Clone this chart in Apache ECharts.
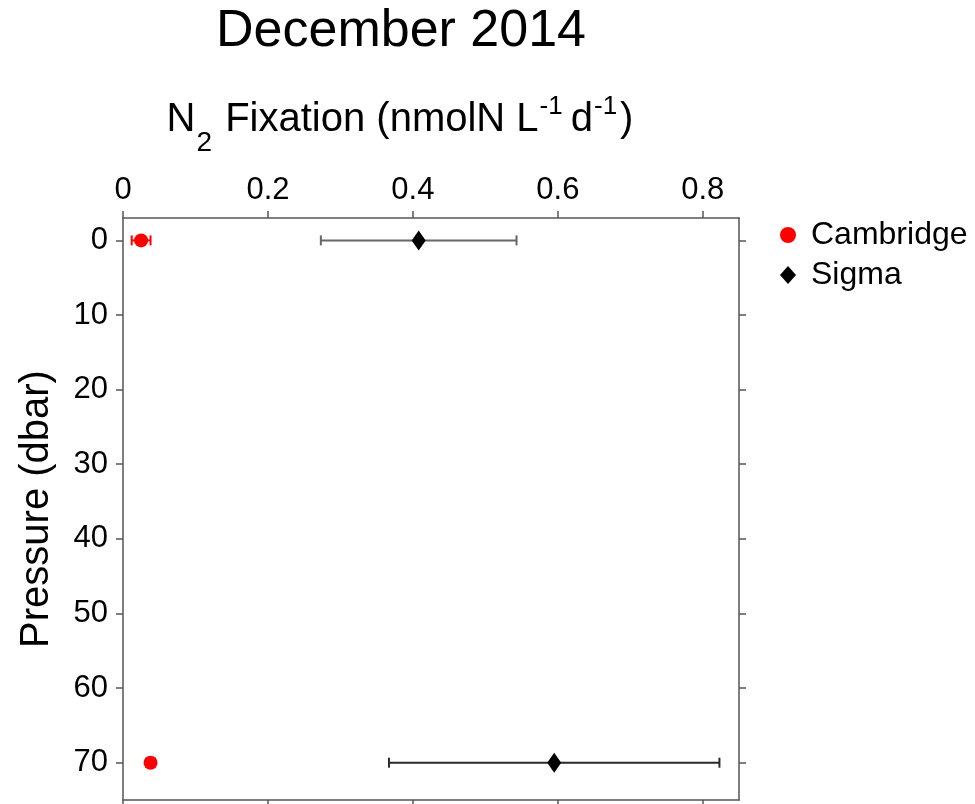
<!DOCTYPE html>
<html>
<head>
<meta charset="utf-8">
<title>December 2014</title>
<script src="https://cdn.jsdelivr.net/npm/echarts@6/dist/echarts.min.js"></script>
<style>
  html, body { margin: 0; padding: 0; background: #fff; }
  #chart { width: 975px; height: 804px; }
</style>
</head>
<body>
<div id="chart"></div>
<script>
// Sampling depths (dbar)
const pressure = [0, 70];

// N2 fixation rates (nmolN L-1 d-1): mean and half-width of error bars
const cambridgeMean = [0.025, 0.038];
const cambridgeErr = [0.013, 0.006];
const sigmaMean = [0.408, 0.595];
const sigmaErr = [0.135, 0.228];

// Axis ticks
const rateTicks = [0, 0.2, 0.4, 0.6, 0.8];
const pressureTicks = [0, 10, 20, 30, 40, 50, 60, 70];

const FONT = '"Liberation Sans", Arial, Helvetica, sans-serif';
const AXIS_COLOR = '#555';

function points(mean, err) {
  return mean.map((m, i) => [m, pressure[i], m - err[i], m + err[i]]);
}

// Horizontal error bar with end caps
function errorBarRenderer(colors, lineWidth, capHalf) {
  return function (params, api) {
    const y = api.value(1);
    const lo = api.coord([api.value(2), y]);
    const hi = api.coord([api.value(3), y]);
    const style = { stroke: colors[params.dataIndex % colors.length], lineWidth: lineWidth };
    return {
      type: 'group',
      children: [
        { type: 'line', shape: { x1: lo[0], y1: lo[1], x2: hi[0], y2: hi[1] }, style: style },
        { type: 'line', shape: { x1: lo[0], y1: lo[1] - capHalf, x2: lo[0], y2: lo[1] + capHalf }, style: style },
        { type: 'line', shape: { x1: hi[0], y1: hi[1] - capHalf, x2: hi[0], y2: hi[1] + capHalf }, style: style }
      ]
    };
  };
}

const xCommon = {
  type: 'value', min: 0, max: 0.85,
  axisLine: { show: true, onZero: false, lineStyle: { color: AXIS_COLOR, width: 1.5 } },
  splitLine: { show: false },
  axisTick: { show: true, inside: false, length: 7, customValues: rateTicks, lineStyle: { color: AXIS_COLOR, width: 1.5 } }
};
const yCommon = {
  type: 'value', min: -3, max: 75, inverse: true,
  axisLine: { show: true, onZero: false, lineStyle: { color: AXIS_COLOR, width: 1.5 } },
  splitLine: { show: false },
  axisTick: { show: true, inside: false, length: 7, customValues: pressureTicks, lineStyle: { color: AXIS_COLOR, width: 1.5 } }
};

const chart = echarts.init(document.getElementById('chart'), null, { renderer: 'canvas' });

chart.setOption({
  animation: false,
  backgroundColor: '#fff',
  grid: { left: 123, right: 236, top: 218, bottom: 4, containLabel: false },
  graphic: [
    {
      type: 'text', x: 401, y: 32,
      style: {
        text: 'December 2014', font: '52px ' + FONT, fill: '#000',
        align: 'center', verticalAlign: 'middle', textAlign: 'center', textVerticalAlign: 'middle'
      }
    },
    {
      // Axis title with subscript and superscripts
      type: 'text', x: 400, y: 112,
      style: {
        text: '{m|N}{sub|2}{m| Fixation (nmolN L}{sup|-1}{m|d}{supEnd|-1}{m|)}',
        fontFamily: FONT, fontSize: 40, fill: '#000',
        align: 'center', verticalAlign: 'middle', textAlign: 'center', textVerticalAlign: 'middle',
        rich: {
          m: { fontFamily: FONT, fontSize: 40, fill: '#000', verticalAlign: 'top', lineHeight: 40, padding: [8, 0, 0, 0] },
          sub: { fontFamily: FONT, fontSize: 28, fill: '#000', verticalAlign: 'top', lineHeight: 28, padding: [37, 2, 0, 1] },
          sup: { fontFamily: FONT, fontSize: 26, fill: '#000', verticalAlign: 'top', lineHeight: 26, padding: [2, 8, 0, 1] },
          supEnd: { fontFamily: FONT, fontSize: 26, fill: '#000', verticalAlign: 'top', lineHeight: 26, padding: [2, 3, 0, 1] }
        }
      }
    }
  ],
  legend: {
    orient: 'vertical', left: 775, top: 214,
    itemWidth: 16, itemHeight: 18, itemGap: 8,
    textStyle: { fontFamily: FONT, fontSize: 32, color: '#000', padding: [0, 0, 0, 10] },
    data: [
      { name: 'Cambridge', icon: 'circle' },
      { name: 'Sigma', icon: 'diamond' }
    ]
  },
  xAxis: [
    Object.assign({}, xCommon, {
      position: 'top',
      axisLabel: { show: true, margin: 12, customValues: rateTicks, fontFamily: FONT, fontSize: 31, color: '#000',
        formatter: v => (v === 0 ? '0' : String(v)) }
    }),
    Object.assign({}, xCommon, { position: 'bottom', axisLabel: { show: false } })
  ],
  yAxis: [
    Object.assign({}, yCommon, {
      position: 'left',
      name: 'Pressure (dbar)', nameLocation: 'middle', nameGap: 66, nameRotate: 90,
      nameTextStyle: { fontFamily: FONT, fontSize: 40, color: '#000' },
      axisLabel: { show: true, margin: 15, customValues: pressureTicks, fontFamily: FONT, fontSize: 31, color: '#000' }
    }),
    Object.assign({}, yCommon, { position: 'right', axisLabel: { show: false } })
  ],
  series: [
    {
      name: 'Cambridge err', type: 'custom', xAxisIndex: 0, yAxisIndex: 0,
      renderItem: errorBarRenderer(['#ff0000'], 2, 5),
      encode: { x: [0, 2, 3], y: 1 },
      data: points(cambridgeMean, cambridgeErr), z: 2, silent: true
    },
    {
      name: 'Sigma err', type: 'custom', xAxisIndex: 0, yAxisIndex: 0,
      renderItem: errorBarRenderer(['#666666', '#2a2a2a'], 2, 5),
      encode: { x: [0, 2, 3], y: 1 },
      data: points(sigmaMean, sigmaErr), z: 2, silent: true
    },
    {
      name: 'Cambridge', type: 'scatter', xAxisIndex: 0, yAxisIndex: 0,
      symbol: 'circle', symbolSize: 14,
      itemStyle: { color: '#ff0000', opacity: 1 },
      data: cambridgeMean.map((m, i) => [m, pressure[i]]), z: 3
    },
    {
      name: 'Sigma', type: 'scatter', xAxisIndex: 0, yAxisIndex: 0,
      symbol: 'diamond', symbolSize: [14, 20],
      itemStyle: { color: '#000', opacity: 1 },
      data: sigmaMean.map((m, i) => [m, pressure[i]]), z: 3
    }
  ]
});
</script>
</body>
</html>
